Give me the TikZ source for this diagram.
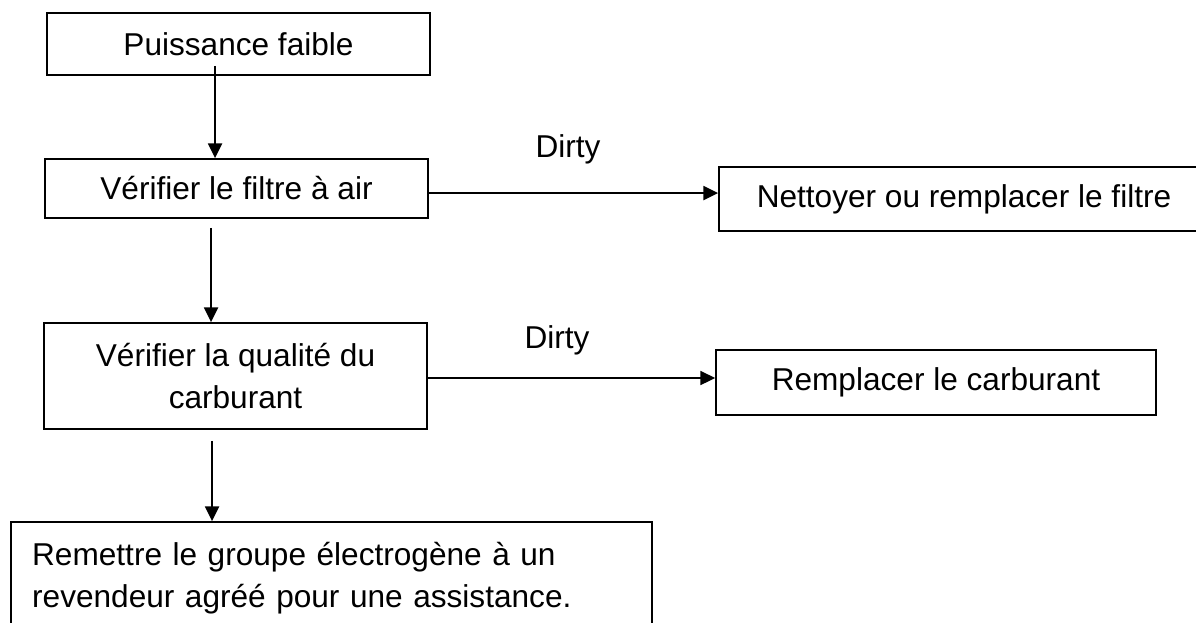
\documentclass[tikz,border=0pt]{standalone}
\usepackage{fontspec}
\setmainfont{Liberation Sans}
\usepackage{tikz}
\usetikzlibrary{arrows.meta}

\begin{document}
\begin{tikzpicture}[x=0.75pt, y=-0.75pt, line width=1.3pt,
        box/.style = {draw, rectangle, inner sep=0pt, font=\fontsize{23.7}{31}\selectfont},
        flow/.style = {-{Triangle[length=11pt, width=10.5pt]}},
        tag/.style = {anchor=base, font=\fontsize{23.7}{31}\selectfont}]
        \useasboundingbox (0,0) rectangle (1196,622);
        \clip (0,0) rectangle (1196,622);
        % Start
        \node[box, minimum width=287.25pt, minimum height=46.5pt] (power) at (238.5,44) {Puissance faible};
        % Checks
        \node[box, minimum width=287.25pt, minimum height=44.25pt] (filter) at (236.5,188.5) {Vérifier le filtre à air};
        \node[box, minimum width=287.25pt, minimum height=79.5pt, align=center] (fuel) at (235.5,376) {Vérifier la qualité du\\carburant};
        % Dealer
        \node[box, minimum width=480.75pt, minimum height=84pt, text width=449pt, align=left] (dealer) at (331.5,578)
            {Remettre le groupe électrogène à un\\revendeur agréé pour une assistance.};
        % Fixes
        \node[box, minimum width=367.5pt, minimum height=48pt] (cleanfilter) at (964,199) {Nettoyer ou remplacer le filtre};
        \node[box, minimum width=330pt, minimum height=48.75pt] (newfuel) at (936,382.5) {Remplacer le carburant};
        % Arrows
        \draw[flow] ([xshift=-17.6pt, yshift=7.5pt]power.south) -- ([xshift=-17.6pt]power.south |- filter.north);
        \draw[flow] ([xshift=-19.1pt, yshift=-6.75pt]filter.south) -- ([xshift=-19.1pt]filter.south |- fuel.north);
        \draw[flow] ([xshift=-17.6pt, yshift=-8.25pt]fuel.south) -- ([xshift=-17.6pt]fuel.south |- dealer.north);
        \draw[flow] ([yshift=-3.4pt]filter.east) -- ([yshift=-3.4pt]filter.east -| cleanfilter.west);
        \draw[flow] ([yshift=-1.5pt]fuel.east) -- ([yshift=-1.5pt]fuel.east -| newfuel.west);
        % Labels
        \node[tag] (dirtyfilter) at (568,157) {Dirty};
        \node[tag] (dirtyfuel) at (557,348) {Dirty};
\end{tikzpicture}
\end{document}
